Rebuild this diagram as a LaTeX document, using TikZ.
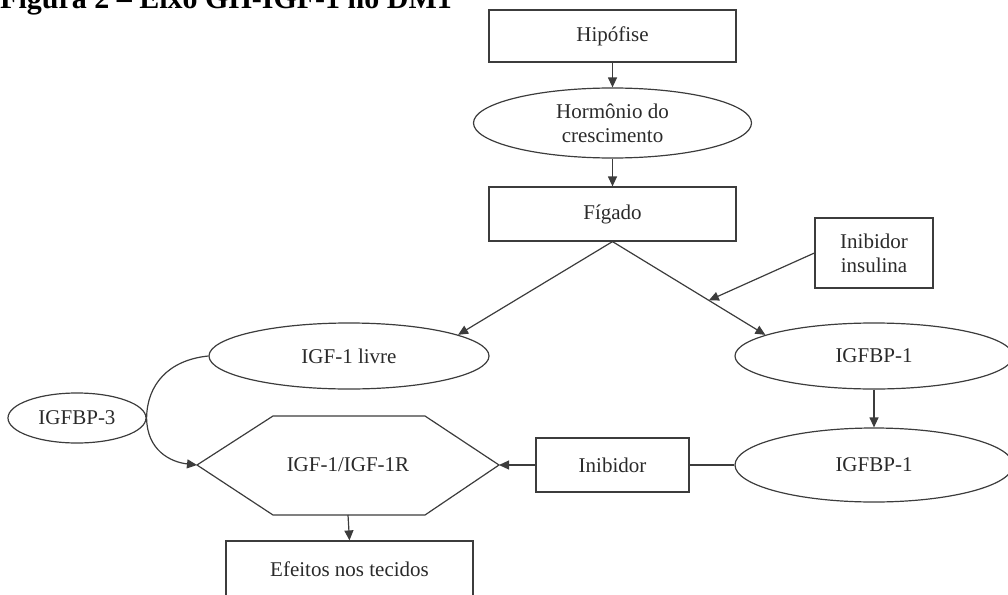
\documentclass[tikz,border=0pt]{standalone}
\usepackage{fontspec}
\setmainfont{Liberation Serif}
\usetikzlibrary{shapes.geometric,arrows.meta}
\definecolor{lc}{HTML}{3C3C3C}
\definecolor{tc}{HTML}{2A2A2A}
\begin{document}
\begin{tikzpicture}[x=1pt,y=-1pt,
  ln/.style={draw=lc,line width=1.2pt},
  arr/.style={ln,-{Triangle[length=10pt,width=9pt]}},
  lbl/.style={text=tc,font=\fontsize{21}{24}\selectfont,align=center,inner sep=0pt},
  box/.style={lbl,ln,rectangle,minimum width=#1},
  box/.default=247pt,
  ell/.style={lbl,ln,ellipse}]
\useasboundingbox (0,0) rectangle (1008,594);
\node[anchor=base west,inner sep=0pt,font=\fontsize{30}{36}\selectfont\bfseries] (title) at (0,8.5) {Figura 2 – Eixo GH-IGF-1 no DM1};
\node[box,minimum height=52pt] (hip) at (612.5,36) {Hipófise};
\node[ell,minimum width=278pt,minimum height=70pt] (horm) at (612.5,123) {Hormônio do\\crescimento};
\node[box,minimum height=54pt] (fig) at (612.5,214) {Fígado};
\node[box=118pt,minimum height=70pt] (ins) at (874,253) {Inibidor\\insulina};
\node[ell,minimum width=280pt,minimum height=66pt] (livre) at (349,356) {IGF-1 livre};
\node[ell,minimum width=278pt,minimum height=66pt] (bp1a) at (874,356) {IGFBP-1};
\node[ell,minimum width=278pt,minimum height=74pt] (bp1b) at (874,465) {IGFBP-1};
\node[ell,minimum width=138pt,minimum height=50pt] (bp3) at (77,418) {IGFBP-3};
\node[box=153pt,minimum height=54pt] (inib) at (612.5,465) {Inibidor};
% hexagon
\coordinate (hexL) at (197,465);
\coordinate (hexTL) at (273,416);
\coordinate (hexTR) at (425,416);
\coordinate (hexR) at (499,465);
\coordinate (hexBR) at (425,515);
\coordinate (hexBL) at (273,515);
\coordinate (hexB) at (348,515);
\draw[ln,line join=miter] (hexL) -- (hexTL) -- (hexTR) -- (hexR) -- (hexBR) -- (hexBL) -- cycle;
\node[lbl] (hex) at (348,465) {IGF-1/IGF-1R};
\node[box,minimum height=56pt] (efe) at (349.5,569) {Efeitos nos tecidos};
% connectors
\draw[arr] (hip) -- (horm);
\draw[arr] (horm) -- (fig);
\draw[arr] (fig.south) -- (livre.11);
\draw[arr] (fig.south) -- (bp1a.169) coordinate[pos=0.63] (mid);
\draw[arr] (ins.west) -- (mid);
\draw[arr] (bp1a.south) -- (bp1b.north);
\draw[ln] (bp1b.west) -- (inib.east);
\draw[arr] (inib.west) -- (hexR);
\draw[arr] (hexB) -- (efe.north);
\draw[arr] (livre.west) .. controls (168,360) and (147,385) .. (bp3.east) .. controls (147,450) and (170,462) .. (hexL);
\end{tikzpicture}
\end{document}
